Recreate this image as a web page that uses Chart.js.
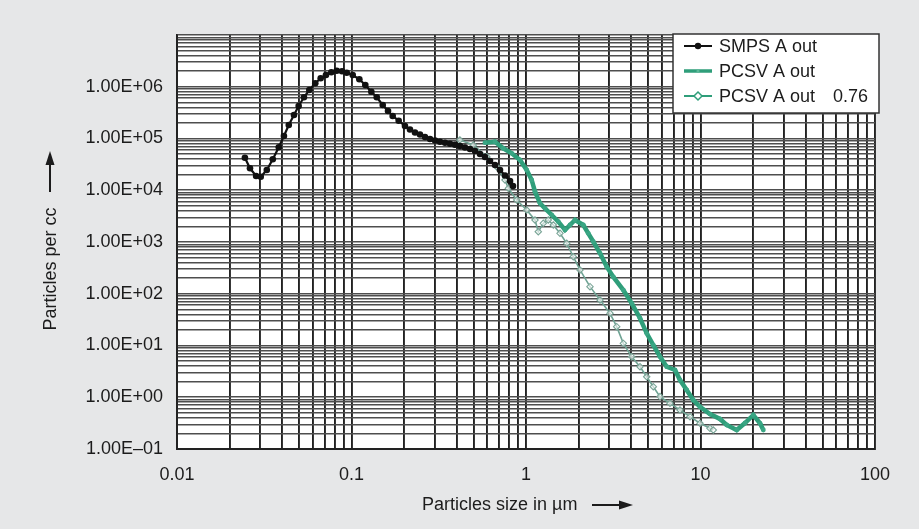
<!DOCTYPE html>
<html>
<head>
<meta charset="utf-8">
<script src="https://cdn.jsdelivr.net/npm/chart.js@4.4.1/dist/chart.umd.min.js"></script>
<style>
  html, body { margin: 0; padding: 0; background: #e6e7e8; }
  #wrap { width: 919px; height: 529px; position: relative; }
</style>
</head>
<body>
<div id="wrap"><canvas id="chart"></canvas></div>
<script>
// particle size in µm / particles per cc
const smpsX = [0.0245, 0.0262, 0.0284, 0.0302, 0.0327, 0.0354, 0.0383, 0.0410, 0.0437, 0.0468,
  0.0498, 0.0534, 0.0573, 0.0620, 0.0666, 0.0714, 0.0766, 0.0823, 0.0882, 0.0939,
  0.1016, 0.1109, 0.1200, 0.1299, 0.1395, 0.1510, 0.1619, 0.1722, 0.1864, 0.2025,
  0.2163, 0.2311, 0.2469, 0.2637, 0.2818, 0.3010, 0.3215, 0.3434, 0.3668, 0.3917,
  0.4184, 0.4470, 0.4775, 0.5101, 0.5450, 0.5821, 0.6219, 0.6643, 0.7096, 0.7580,
  0.8098, 0.8424];
const smpsY = [42560, 26550, 18840, 18270, 24620, 39630, 67600, 111700, 182300, 284500,
  424600, 625300, 865500, 1166000, 1456000, 1687000, 1902000, 2042000, 1991000, 1868000,
  1687000, 1393000, 1081000, 802000, 625300, 443900, 339800, 272200, 220800, 174400,
  149300, 130600, 119500, 106900, 97800, 91500, 86700, 82600, 79000, 75500,
  71600, 67000, 62700, 57300, 50200, 43900, 36700, 30750, 24620, 19280,
  15100, 12080];

const pcsvX = [0.582, 0.664, 0.741, 0.828, 0.924, 1.009, 1.078, 1.126, 1.203, 1.285,
  1.404, 1.532, 1.673, 1.787, 1.909, 2.130, 2.275, 2.431, 2.656, 2.901,
  3.165, 3.612, 4.035, 4.502, 4.918, 5.365, 5.861, 6.403, 7.144, 7.630,
  8.334, 9.094, 9.934, 11.33, 12.93, 14.13, 16.12, 17.99, 20.07, 21.93,
  22.91];
const pcsvY = [83000, 86700, 64700, 51760, 38440, 24620, 15780, 9380, 5596, 4479,
  3324, 2467, 1706, 2131, 2661, 2131, 1472, 1014, 605, 333,
  211, 118, 65.3, 33.6, 17.2, 10.2, 6.08, 3.89, 3.36, 2.15,
  1.38, 0.885, 0.656, 0.474, 0.380, 0.291, 0.233, 0.318, 0.454, 0.314,
  0.233];

const pcsv76X = [0.418, 0.499, 0.596, 0.679, 0.758, 0.792, 0.885, 1.009, 1.126, 1.176,
  1.256, 1.342, 1.434, 1.566, 1.711, 1.866, 2.039, 2.327, 2.656, 3.029,
  3.310, 3.612, 4.035, 4.502, 4.918, 5.365, 5.861, 6.686, 7.630, 8.708,
  9.934, 11.33, 11.84];
const pcsv76Y = [93500, 74870, 44480, 28510, 15780, 10910, 6486, 4150, 2661, 1581,
  2297, 2661, 2131, 1472, 944, 520, 288, 137, 75.7, 41.9,
  23.1, 11.0, 6.08, 3.89, 2.49, 1.60, 1.03, 0.764, 0.568, 0.421,
  0.314, 0.251, 0.233];

const seriesNames = ['SMPS A out', 'PCSV A out', 'PCSV A out   0.76'];

const xTickValues = [0.01, 0.1, 1, 10, 100];
const xTickLabels = ['0.01', '0.1', '1', '10', '100'];
const yTickValues = [0.1, 1, 10, 100, 1000, 10000, 100000, 1000000];
const yTickLabels = ['1.00E\u201301', '1.00E+00', '1.00E+01', '1.00E+02', '1.00E+03', '1.00E+04', '1.00E+05', '1.00E+06'];

const FONT = '"Liberation Sans", Arial, Helvetica, sans-serif';
const TEXT = '#1c1c1c';
const GREEN = '#2f9e7a';
const GREY_GREEN = '#6fa394';

function pts(xs, ys) { return xs.map((x, i) => ({ x: x, y: ys[i] })); }

// every 1..9 x 10^n value between lo and hi, for the grid
function logGrid(lo, hi) {
  const out = [];
  for (let e = Math.round(Math.log10(lo)); e < Math.round(Math.log10(hi)); e++) {
    for (let m = 1; m <= 9; m++) out.push(Number((m * Math.pow(10, e)).toPrecision(3)));
  }
  out.push(hi);
  return out;
}

function labelFor(v, values, labels) {
  for (let i = 0; i < values.length; i++) {
    if (Math.abs(v - values[i]) / values[i] < 1e-6) return labels[i];
  }
  return '';
}

const decor = {
  id: 'decor',
  beforeDraw(chart) {
    const { ctx, chartArea: a } = chart;
    ctx.save();
    ctx.fillStyle = '#e6e7e8';
    ctx.fillRect(0, 0, chart.width, chart.height);
    ctx.fillStyle = '#fff';
    ctx.fillRect(a.left, a.top, a.right - a.left, a.bottom - a.top);
    ctx.restore();
  },
  afterDraw(chart) {
    const ctx = chart.ctx;
    ctx.save();
    ctx.fillStyle = TEXT;
    ctx.strokeStyle = TEXT;
    ctx.font = '18px ' + FONT;

    // x title + arrow
    ctx.textAlign = 'left';
    ctx.textBaseline = 'middle';
    ctx.fillText('Particles size in \u00b5m', 422, 505);
    ctx.lineWidth = 2;
    ctx.beginPath(); ctx.moveTo(592, 505); ctx.lineTo(622, 505); ctx.stroke();
    ctx.beginPath(); ctx.moveTo(633, 505); ctx.lineTo(619, 500.5); ctx.lineTo(619, 509.5); ctx.closePath(); ctx.fill();

    // y title + arrow
    ctx.save();
    ctx.translate(51, 269);
    ctx.rotate(-Math.PI / 2);
    ctx.textAlign = 'center';
    ctx.fillText('Particles per cc', 0, 0);
    ctx.restore();
    ctx.beginPath(); ctx.moveTo(50, 192); ctx.lineTo(50, 162); ctx.stroke();
    ctx.beginPath(); ctx.moveTo(50, 151); ctx.lineTo(45.5, 165); ctx.lineTo(54.5, 165); ctx.closePath(); ctx.fill();

    // legend
    ctx.fillStyle = '#fff';
    ctx.fillRect(673, 34, 206, 79);
    ctx.strokeStyle = '#333';
    ctx.lineWidth = 1.5;
    ctx.strokeRect(673, 34, 206, 79);
    const rows = [46, 71, 96];
    const styles = [
      { color: '#111', width: 2, marker: 'dot' },
      { color: GREEN, width: 3.5, marker: 'small' },
      { color: GREEN, width: 2, marker: 'diamond' },
    ];
    rows.forEach((y, i) => {
      const s = styles[i];
      ctx.strokeStyle = s.color;
      ctx.lineWidth = s.width;
      ctx.beginPath(); ctx.moveTo(684, y); ctx.lineTo(712, y); ctx.stroke();
      if (s.marker === 'dot') {
        ctx.fillStyle = s.color;
        ctx.beginPath(); ctx.arc(698, y, 3.2, 0, Math.PI * 2); ctx.fill();
      } else if (s.marker === 'small') {
        ctx.fillStyle = '#5cb898';
        ctx.beginPath(); ctx.arc(698, y, 1.6, 0, Math.PI * 2); ctx.fill();
      } else {
        ctx.fillStyle = '#fff';
        ctx.lineWidth = 1.5;
        ctx.beginPath(); ctx.moveTo(698, y - 4); ctx.lineTo(702, y); ctx.lineTo(698, y + 4); ctx.lineTo(694, y); ctx.closePath();
        ctx.fill(); ctx.stroke();
      }
      ctx.fillStyle = TEXT;
      ctx.textAlign = 'left';
      ctx.textBaseline = 'middle';
      const parts = seriesNames[i].split('   ');
      ctx.fillText(parts[0], 719, y + 1);
      if (parts[1]) ctx.fillText(parts[1], 833, y + 1);
    });
    ctx.restore();
  }
};

const xGrid = logGrid(0.01, 100);
const yGrid = logGrid(0.1, 1e7);

new Chart(document.getElementById('chart'), {
  type: 'scatter',
  data: {
    datasets: [
      {
        label: seriesNames[0], data: pts(smpsX, smpsY), showLine: true,
        borderColor: '#111', borderWidth: 2.2, backgroundColor: '#111',
        pointRadius: 3.3, pointBorderWidth: 0, pointBackgroundColor: '#111',
      },
      {
        label: seriesNames[1], data: pts(pcsvX, pcsvY), showLine: true,
        borderColor: GREEN, borderWidth: 4.5, backgroundColor: GREEN,
        pointRadius: 2.4, pointBorderWidth: 0, pointBackgroundColor: '#3aa684',
      },
      {
        label: seriesNames[2], data: pts(pcsv76X, pcsv76Y), showLine: true,
        borderColor: GREY_GREEN, borderWidth: 1.6, backgroundColor: '#fff',
        pointStyle: 'rectRot', pointRadius: 3.2, pointBorderWidth: 1.1, pointBorderColor: '#7aa597',
        pointBackgroundColor: 'rgba(255,255,255,0.6)',
      },
    ],
  },
  options: {
    responsive: true,
    maintainAspectRatio: false,
    animation: false,
    layout: { padding: { left: 0, right: 44, top: 35, bottom: 0 } },
    plugins: { legend: { display: false }, tooltip: { enabled: false } },
    scales: {
      x: {
        type: 'logarithmic', min: 0.01, max: 100,
        afterBuildTicks: (s) => { s.ticks = xGrid.map((v) => ({ value: v })); },
        afterFit: (s) => { s.height = 80; },
        grid: { color: '#222', lineWidth: 1.9, drawTicks: false },
        border: { color: '#222', width: 1.9 },
        ticks: {
          autoSkip: false, maxRotation: 0, padding: 15, color: TEXT,
          font: { family: FONT, size: 18 },
          callback: (v) => labelFor(v, xTickValues, xTickLabels),
        },
      },
      y: {
        type: 'logarithmic', min: 0.1, max: 1e7,
        afterBuildTicks: (s) => { s.ticks = yGrid.map((v) => ({ value: v })); },
        afterFit: (s) => { s.width = 177; },
        grid: { color: '#4e4e4e', lineWidth: 1.6, drawTicks: false },
        border: { color: '#222', width: 1.9 },
        ticks: {
          autoSkip: false, padding: 14, color: TEXT,
          font: { family: FONT, size: 18 },
          callback: (v) => labelFor(v, yTickValues, yTickLabels),
        },
      },
    },
  },
  plugins: [decor],
});
</script>
</body>
</html>
